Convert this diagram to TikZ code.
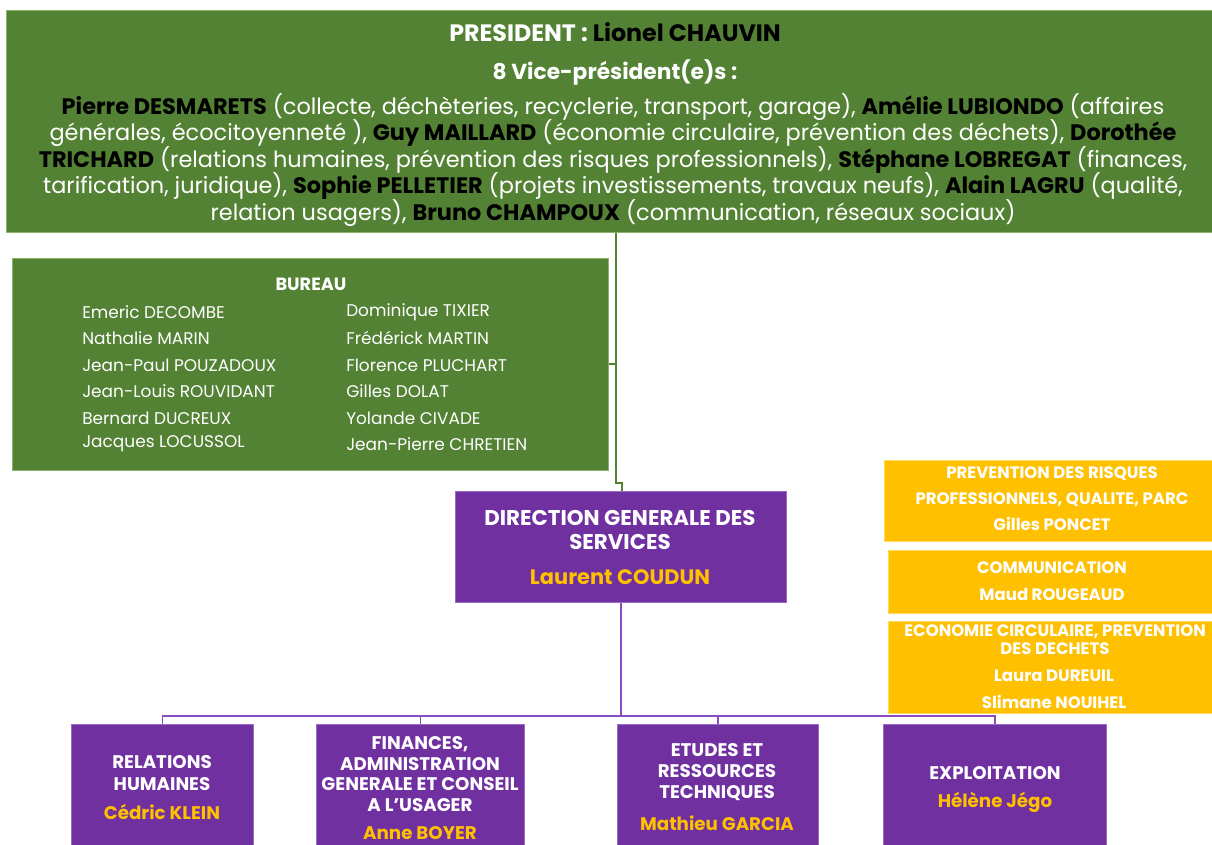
\documentclass[tikz,border=0pt]{standalone}
\usepackage{fontspec}
\setmainfont{Poppins}
\definecolor{cgreen}{HTML}{548235}
\definecolor{cgreenl}{HTML}{8DB36E}
\definecolor{cpurple}{HTML}{7030A0}
\definecolor{cpurplel}{HTML}{9B6BC8}
\definecolor{cyellow}{HTML}{FFC000}
\definecolor{cyellowl}{HTML}{FFD866}
\definecolor{cpline}{HTML}{8A4CC2}
\tikzset{
  gbox/.style={fill=cgreen, draw=cgreenl, line width=0.6pt, inner sep=0pt, anchor=north west},
  pbox/.style={fill=cpurple, draw=cpurplel, line width=0.6pt, inner sep=0pt, anchor=north west},
  ybox/.style={fill=cyellow, draw=cyellowl, line width=0.6pt, inner sep=0pt, anchor=north west},
  txt/.style={text=white, inner sep=0pt, align=center},
  ltxt/.style={text=white, inner sep=0pt, anchor=west, font=\fs{12.7}{14}},
  gline/.style={draw=cgreen, line width=1pt},
  pline/.style={draw=cpline, line width=1.2pt},
}
\newcommand{\fs}[2]{\fontsize{#1}{#2}\selectfont\lineskiplimit=-100pt\relax}
\newcommand{\nm}[1]{\textbf{\color{black}#1}}
\newcommand{\yl}[1]{\textbf{\color{cyellow}#1}}
\begin{document}
\begin{tikzpicture}[x=0.75pt,y=-0.75pt]
\useasboundingbox (0,0) rectangle (1212,844);
\clip (0,0) rectangle (1212,844);
\fill[white] (0,0) rectangle (1212,844);

% top president box
\node[gbox, minimum width=1210*0.75pt, minimum height=222*0.75pt] (pres) at (6,10) {};
\node[txt, font=\fs{17.8}{20}\bfseries] (prest) at (615,32) {PRESIDENT : {\color{black}Lionel CHAUVIN}};
\node[txt, font=\fs{16.3}{19}\bfseries] (vice) at (615,72) {8 Vice-président(e)s :};
\node[txt, font=\fs{16.8}{19.9}] (vp) at (613,160) {%
\nm{Pierre DESMARETS} (collecte, déchèteries, recyclerie, transport, garage), \nm{Amélie LUBIONDO} (affaires\\
générales, écocitoyenneté ), \nm{Guy MAILLARD} (économie circulaire, prévention des déchets), \nm{Dorothée}\\
\nm{TRICHARD} (relations humaines, prévention des risques professionnels), \nm{Stéphane LOBREGAT} (finances,\\
tarification, juridique), \nm{Sophie PELLETIER} (projets investissements, travaux neufs), \nm{Alain LAGRU} (qualité,\\
relation usagers), \nm{Bruno CHAMPOUX} (communication, réseaux sociaux)};

% bureau box
\node[gbox, minimum width=596*0.75pt, minimum height=212*0.75pt] (bur) at (12,258) {};
\node[txt, font=\fs{13.3}{15}\bfseries] (burt) at (311,284) {BUREAU};
\node[ltxt] (b1) at (82,312) {Emeric DECOMBE};
\node[ltxt] (b2) at (82,338) {Nathalie MARIN};
\node[ltxt] (b3) at (82,365) {Jean-Paul POUZADOUX};
\node[ltxt] (b4) at (82,391) {Jean-Louis ROUVIDANT};
\node[ltxt] (b5) at (82,418) {Bernard DUCREUX};
\node[ltxt] (b6) at (82,444) {Jacques LOCUSSOL};
\node[ltxt] (c1) at (346,312) {Dominique TIXIER};
\node[ltxt] (c2) at (346,338) {Frédérick MARTIN};
\node[ltxt] (c3) at (346,365) {Florence PLUCHART};
\node[ltxt] (c4) at (346,391) {Gilles DOLAT};
\node[ltxt] (c5) at (346,418) {Yolande CIVADE};
\node[ltxt] (c6) at (346,444) {Jean-Pierre CHRETIEN};

% DGS box
\node[pbox, minimum width=331*0.75pt, minimum height=111*0.75pt] (dgs) at (455,491) {};
\node[txt, font=\fs{16}{18}\bfseries] (dgst) at (620,530) {DIRECTION GENERALE DES\\SERVICES};
\node[txt, font=\fs{15.7}{17}\bfseries] (dgsn) at (620,577) {\yl{Laurent COUDUN}};

% green connector
\coordinate (gj1) at (616,483);
\coordinate (gj2) at (622,483);
\coordinate (gtick) at (616,364);
\draw[gline] (pres.south -| gj1) -- (gj1) -- (gj2) -- (gj2 |- dgs.north);
\draw[gline] (gtick) -- (gtick -| bur.east);

% yellow boxes
\node[ybox, minimum width=330*0.75pt, minimum height=81*0.75pt] (y1) at (884,460) {};
\node[txt, font=\fs{12.4}{19.5}\bfseries] (y1t) at (1052,499) {PREVENTION DES RISQUES\\PROFESSIONNELS, QUALITE, PARC\\Gilles PONCET};
\node[ybox, minimum width=326*0.75pt, minimum height=63*0.75pt] (y2) at (888,550) {};
\node[txt, font=\fs{12.4}{20}\bfseries] (y2t) at (1052,581) {COMMUNICATION\\Maud ROUGEAUD};
\node[ybox, minimum width=326*0.75pt, minimum height=92*0.75pt] (y3) at (888,621) {};
\node[txt, font=\fs{12.4}{13.5}\bfseries] (y3ta) at (1055,640) {ECONOMIE CIRCULAIRE, PREVENTION\\DES DECHETS};
\node[txt, font=\fs{12.4}{20}\bfseries] (y3tb) at (1054,689) {Laura DUREUIL\\Slimane NOUIHEL};

% bottom boxes
\node[pbox, minimum width=182*0.75pt, minimum height=140*0.75pt] (rh) at (71,724) {};
\node[txt, font=\fs{13.7}{16.5}\bfseries] (rht) at (162,773) {RELATIONS\\HUMAINES};
\node[txt, font=\fs{13.7}{15}\bfseries] (rhn) at (162,812) {\yl{Cédric KLEIN}};

\node[pbox, minimum width=208*0.75pt, minimum height=140*0.75pt] (fin) at (316,724) {};
\node[txt, font=\fs{13.7}{15.5}\bfseries] (fint) at (420,774) {FINANCES,\\ADMINISTRATION\\GENERALE ET CONSEIL\\A L'USAGER};
\node[txt, font=\fs{13.7}{15}\bfseries] (finn) at (420,833) {\yl{Anne BOYER}};

\node[pbox, minimum width=201*0.75pt, minimum height=140*0.75pt] (etu) at (617,724) {};
\node[txt, font=\fs{13.7}{15.5}\bfseries] (etut) at (717,772) {ETUDES ET\\RESSOURCES\\TECHNIQUES};
\node[txt, font=\fs{13.7}{15}\bfseries] (etun) at (717,823) {\yl{Mathieu GARCIA}};

\node[pbox, minimum width=223*0.75pt, minimum height=140*0.75pt] (exp) at (883,724) {};
\node[txt, font=\fs{13.7}{15}\bfseries] (expt) at (995,773) {EXPLOITATION};
\node[txt, font=\fs{13.7}{15}\bfseries] (expn) at (995,802) {\yl{Hélène Jégo}};

% purple connectors
\coordinate (bus) at (621,716);
\draw[pline] (dgs.south -| bus) -- (bus);
\draw[pline] (rh.north) -- (rh.north |- bus) -- (exp.north |- bus) -- (exp.north);
\draw[pline] (fin.north) -- (fin.north |- bus);
\draw[pline] (etu.north) -- (etu.north |- bus);
\end{tikzpicture}
\end{document}
